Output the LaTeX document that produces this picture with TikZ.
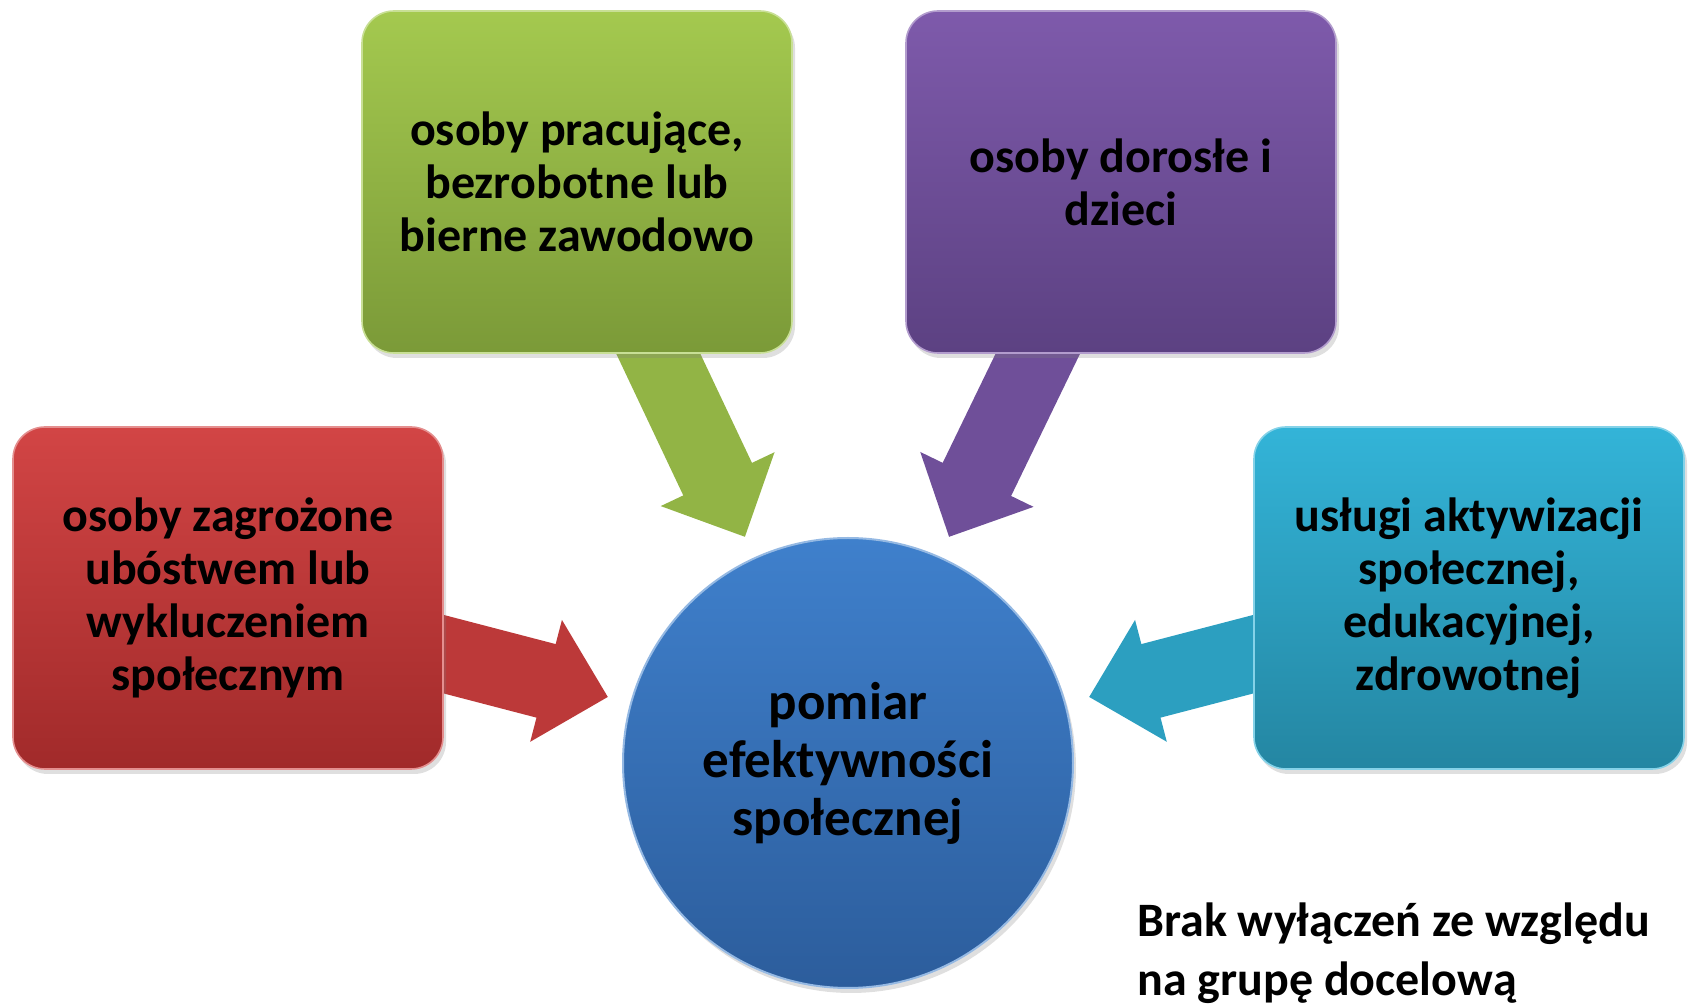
\documentclass[tikz,border=0pt]{standalone}
\usepackage{fontspec}
\setmainfont{Carlito}
\usetikzlibrary{arrows.meta,shadows}
\definecolor{riskTop}{HTML}{D24545}
\definecolor{riskBot}{HTML}{A12A2A}
\definecolor{workTop}{HTML}{A4C94F}
\definecolor{workBot}{HTML}{7B9A38}
\definecolor{ageTop}{HTML}{7E5AAB}
\definecolor{ageBot}{HTML}{5C4182}
\definecolor{servTop}{HTML}{33B4D8}
\definecolor{servBot}{HTML}{2486A2}
\definecolor{hubTop}{HTML}{3F80CC}
\definecolor{hubBot}{HTML}{2C5D9C}
\pgfdeclarelayer{background}
\pgfsetlayers{background,main}

\begin{document}
\begin{tikzpicture}[x=0.5pt, y=-0.5pt,
    panel/.style 2 args={rectangle, rounded corners=16pt, top color=#1, bottom color=#2, draw=#1!60!white, line width=0.8pt, minimum width=215pt, minimum height=171pt, align=center, font=\fontsize{24}{26.5}\selectfont\bfseries, drop shadow={opacity=0.25, shadow xshift=1.5pt, shadow yshift=-2.5pt}},
    hub/.style={circle, top color=hubTop, bottom color=hubBot, draw=hubTop!55!white, line width=1pt, minimum size=225pt, align=center, font=\fontsize{26.5}{29}\selectfont\bfseries, drop shadow={opacity=0.25, shadow xshift=1.5pt, shadow yshift=-2.5pt}},
    flow/.style={line width=38pt, draw=#1, -{Triangle[width=61pt, length=32pt]}},
    remark/.style={align=left, inner sep=0pt, font=\fontsize{24}{29.5}\selectfont\bfseries}
  ]
  \useasboundingbox (0,0) rectangle (1694,1004);

  % target groups
  \node[panel={riskTop}{riskBot}] (risk) at (228,598) {osoby zagrożone\\ubóstwem lub\\wykluczeniem\\społecznym};
  \node[panel={workTop}{workBot}] (work) at (577,182) {osoby pracujące,\\bezrobotne lub\\bierne zawodowo};
  \node[panel={ageTop}{ageBot}] (age) at (1121,182) {osoby dorosłe i\\dzieci};
  \node[panel={servTop}{servBot}] (serv) at (1469,598) {usługi aktywizacji\\społecznej,\\edukacyjnej,\\zdrowotnej};

  % centre
  \node[hub] (hub) at (848,763) {pomiar\\efektywności\\społecznej};

  \node[remark, anchor=west] (note) at (1137,953) {Brak wyłączeń ze względu\\na grupę docelową};

  % arrow tips
  \coordinate (riskTip) at (608,697);
  \coordinate (workTip) at (745,537);
  \coordinate (ageTip) at (949,537);
  \coordinate (servTip) at (1089,697);

  \begin{pgfonlayer}{background}
    \draw[flow=riskTop!55!riskBot] (risk.center) -- (riskTip);
    \draw[flow=workTop!55!workBot] (work.center) -- (workTip);
    \draw[flow=ageTop!55!ageBot] (age.center) -- (ageTip);
    \draw[flow=servTop!55!servBot] (serv.center) -- (servTip);
  \end{pgfonlayer}
\end{tikzpicture}
\end{document}
